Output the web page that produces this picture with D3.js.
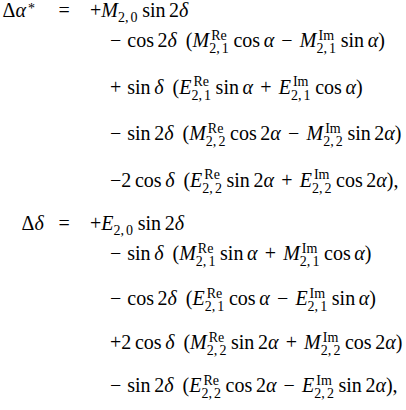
<!DOCTYPE html>
<html>
<head>
<meta charset="utf-8">
<script src="https://cdn.jsdelivr.net/npm/d3@7"></script>
<style>
  body { margin: 0; background: #fff; }
</style>
</head>
<body>
<div id="chart"></div>
<script>
const width = 406
const height = 410

// left-hand sides of the two equations
const lhs = ["Δα^{*}", "Δδ"]

// right-hand side lines, one array per equation
const rhsAlpha = [
    "+M_{2,0} sin 2δ",
    "− cos 2δ (M^{Re}_{2,1} cos α − M^{Im}_{2,1} sin α)",
    "+ sin δ (E^{Re}_{2,1} sin α + E^{Im}_{2,1} cos α)",
    "− sin 2δ (M^{Re}_{2,2} cos 2α − M^{Im}_{2,2} sin 2α)",
    "−2 cos δ (E^{Re}_{2,2} sin 2α + E^{Im}_{2,2} cos 2α),"
]
const rhsDelta = [
    "+E_{2,0} sin 2δ",
    "− sin δ (M^{Re}_{2,1} sin α + M^{Im}_{2,1} cos α)",
    "− cos 2δ (E^{Re}_{2,1} cos α − E^{Im}_{2,1} sin α)",
    "+2 cos δ (M^{Re}_{2,2} sin 2α + M^{Im}_{2,2} cos 2α)",
    "− sin 2δ (E^{Re}_{2,2} cos 2α − E^{Im}_{2,2} sin 2α),"
]

const upright = ["sin", "cos", "Re", "Im"]

const font = "Liberation Serif"
const fs = 20
const col = { lhs: [2.5, 21.5], eq: 58.5, rhs: 90, cont: 110 }
// gaps between baselines (px)
const firstBase = 17
const gapsAlpha = [30, 46.5, 46.5, 46.5]
const gapBetween = 43.5
const gapsDelta = [30, 45, 44, 43]

const svg = d3.select("#chart").append("svg").attr("width", width).attr("height", height)
svg.append("rect").attr("width", width).attr("height", height).attr("fill", "#fff")
const g = svg.append("g")

// tiny math-ish parser: letters italic unless function names, scripts via ^{} _{}
function parse(s) {
    let i = 0
    const out = []
    while (i < s.length) {
        const c = s[i]
        if (c === " ") { out.push({ space: true }); i++; continue }
        if (c === "^" || c === "_") {
            let j = i + 1, body
            if (s[j] === "{") { const k = s.indexOf("}", j); body = s.slice(j + 1, k); i = k + 1 }
            else { body = s[j]; i = j + 1 }
            out[out.length - 1][c === "^" ? "sup" : "sub"] = parse(body)
            continue
        }
        if (/[A-Za-z]/.test(c)) {
            let j = i
            while (j < s.length && /[A-Za-z]/.test(s[j])) j++
            const w = s.slice(i, j)
            if (upright.includes(w)) out.push({ t: w, it: false })
            else for (const ch of w) out.push({ t: ch, it: true })
            i = j
            continue
        }
        if (/[α-ω]/.test(c)) { out.push({ t: c, it: true }); i++; continue }
        out.push({ t: c, it: false, op: "+−=".includes(c) })
        i++
    }
    return out
}

function spaceWidth(prev, next, k) {
    if (next && next.t === "(") return 0.45
    if (prev && prev.op) return k === 1 ? 0.3 : 0.36
    if (next && next.op) return 0.36
    return 0.18
}

function draw(atoms, x, y, size) {
    atoms.forEach((a, k) => {
        const prev = atoms[k - 1], next = atoms[k + 1]
        if (a.space) {
            x += spaceWidth(prev, next, k) * size
            return
        }
        const t = g.append("text")
            .attr("x", x).attr("y", a.t === "*" ? y + 0.3 * size : y)
            .attr("font-family", font)
            .attr("font-size", size)
            .attr("font-style", a.it ? "italic" : "normal")
            .text(a.t)
        let nx = x + t.node().getComputedTextLength()
        if (a.t === "," && size < fs) nx += 0.15 * size
        if (a.sup || a.sub) {
            const ss = size * 0.7
            let ex = nx
            if (a.sub) ex = Math.max(ex, draw(a.sub, nx, y + (a.sup ? 0.3 : 0.27) * size, ss))
            if (a.sup) ex = Math.max(ex, draw(a.sup, nx + (a.it ? 0.1 * size : 0), y - (a.sub ? 0.36 : 0.4) * size, ss))
            nx = ex + 0.05 * size
        }
        x = nx
    })
    return x
}

function drawEquation(idx, lines, gaps, y0) {
    draw(parse(lhs[idx]), col.lhs[idx], y0, fs)
    draw(parse("="), col.eq, y0, fs)
    let y = y0
    lines.forEach((line, i) => {
        if (i > 0) y += gaps[i - 1]
        draw(parse(line), i === 0 ? col.rhs : col.cont, y, fs)
    })
    return y
}

const lastA = drawEquation(0, rhsAlpha, gapsAlpha, firstBase)
drawEquation(1, rhsDelta, gapsDelta, lastA + gapBetween)
</script>
</body>
</html>
